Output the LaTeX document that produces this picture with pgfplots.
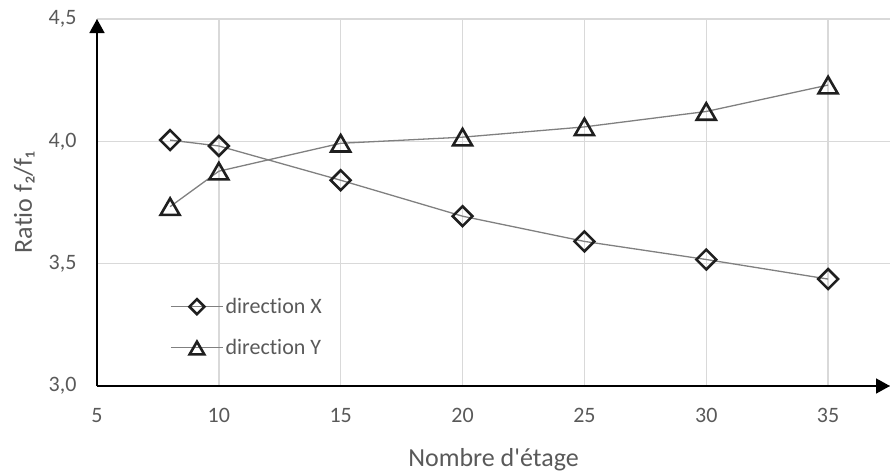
\documentclass[border=0pt]{standalone}
\usepackage{fontspec}
\setmainfont{Carlito}[Ligatures={NoCommon}]
\usepackage{pgfplots}
\pgfplotsset{compat=1.18}
\usetikzlibrary{arrows.meta}
\definecolor{tickgray}{HTML}{595959}
\definecolor{gridgray}{HTML}{D9D9D9}
\definecolor{linegray}{HTML}{808080}
\definecolor{markblack}{HTML}{1F1F1F}
\begin{document}
\begin{tikzpicture}
\useasboundingbox (-97pt,-86pt) rectangle (794pt,386pt);
\begin{axis}[
  at={(0pt,0pt)}, anchor=south west,
  scale only axis, width=793pt, height=367pt,
  xmin=5, xmax=37.54, ymin=3, ymax=4.5,
  axis x line=bottom, axis y line=left,
  axis line style={black, line width=1.6pt},
  x axis line style={-{Triangle[length=14pt,width=15pt]}},
  y axis line style={-{Triangle[length=14pt,width=15pt]}},
  xtick={5,10,...,35}, ytick={3,3.5,4,4.5},
  major tick length=0pt,
  grid=major, major grid style={gridgray, line width=1.3pt},
  tick label style={font=\fontsize{22}{26}\selectfont, text=tickgray},
  /pgf/number format/assume math mode=true,
  xticklabel style={yshift=-19pt},
  yticklabel style={xshift=-17pt, /pgf/number format/.cd, fixed, fixed zerofill, precision=1, use comma},
  xlabel={Nombre d\textquotesingle étage},
  ylabel={Ratio f₂/f₁},
  label style={font=\fontsize{26}{30}\selectfont, text=tickgray},
  xlabel style={at={(axis description cs:0.5,-0.2180)}, anchor=base},
  ylabel style={at={(axis description cs:-0.0820,0.5)}, anchor=base, rotate=0},
  legend style={at={(axis cs:8.0,3.241)}, anchor=west, draw=none, fill=none, inner sep=0pt,
    font=\fontsize{22}{26}\selectfont, text=tickgray, row sep=20pt},
  legend cell align=left,
]
\addplot[linegray, line width=1.3pt, mark=square, mark size=7pt,
  mark options={rotate=45, draw=markblack, fill=none, line width=2.6pt, solid},
  legend image code/.code={\draw[mark repeat=2, mark phase=2, mark size=5.3pt] plot coordinates {(0pt,0pt) (26pt,0pt) (52pt,0pt)};}]
  coordinates {(8,4.005) (10,3.981) (15,3.841) (20,3.694) (25,3.591) (30,3.517) (35,3.437)};
\addlegendentry{direction X}
\addplot[linegray, line width=1.3pt, mark=triangle, mark size=11pt,
  mark options={yshift=-2.75pt, draw=markblack, fill=none, line width=2.6pt, solid},
  legend image code/.code={\draw[mark repeat=2, mark phase=2, mark size=8.5pt] plot coordinates {(0pt,0pt) (26pt,0pt) (52pt,0pt)};}]
  coordinates {(8,3.733) (10,3.878) (15,3.992) (20,4.017) (25,4.059) (30,4.122) (35,4.230)};
\addlegendentry{direction Y}
\end{axis}
\end{tikzpicture}
\end{document}
